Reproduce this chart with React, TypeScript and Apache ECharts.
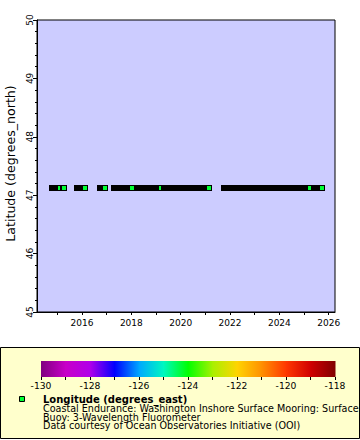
import React, { useEffect, useRef } from "react";
import * as echarts from "echarts";

// ---- data ----
const X_MIN = 2014.176;
const X_MAX = 2026.255;
const xTickYears = [2015, 2016, 2017, 2018, 2019, 2020, 2021, 2022, 2023, 2024, 2025, 2026];
const xLabelYears = [2016, 2018, 2020, 2022, 2024, 2026];
const LAT_MIN = 45;
const LAT_MAX = 50;
const LATITUDE = 47.13;
// continuous runs of observations (decimal years)
const runStart = [2014.784, 2015.23, 2015.797, 2016.73, 2017.297, 2018.229, 2019.324, 2021.756, 2025.404];
const runEnd = [2015.108, 2015.27, 2016.122, 2016.932, 2018.027, 2019.202, 2021.148, 2025.242, 2025.729];
const MARKER_COLOR = "#00ff34"; // longitude -124.27 on the palette
const paletteValues = [-130, -129, -128, -127, -126, -125, -124, -123, -122, -121, -120, -119, -118];
const paletteColors = [
  "#800080", "#c800c8", "#b000ea", "#0000ff", "#00a8ff", "#00f8c0", "#00ff00",
  "#a8f000", "#ffd400", "#ff9000", "#ff3800", "#d00000", "#800000",
];
const yTitle = "Latitude (degrees_north)";
const legendLines = [
  "Coastal Endurance: Washington Inshore Surface Mooring: Surface",
  "Buoy: 3-Wavelength Fluorometer",
  "Data courtesy of Ocean Observatories Initiative (OOI)",
];
const legendTitle = "Longitude (degrees_east)";

const FONT = "DejaVu Sans";

export default function App() {
  const ref = useRef<HTMLDivElement>(null);
  useEffect(() => {
    document.body.style.margin = "0";
    const chart = echarts.init(ref.current!, null, { renderer: "svg" });
    const option: any = {
      animation: false,
      backgroundColor: "#ffffff",
      textStyle: { fontFamily: FONT },
      grid: [
        {
          left: 37, top: 20, width: 298, height: 292,
          show: true, backgroundColor: "#ccccff", borderColor: "#000", borderWidth: 1,
          outerBoundsMode: "none",
        },
        { left: 41, top: 361, width: 294, height: 16, show: false, outerBoundsMode: "none" },
      ],
      xAxis: [
        {
          type: "value", gridIndex: 0, min: X_MIN, max: X_MAX,
          axisLine: { show: true, lineStyle: { color: "#000", width: 1 } },
          axisTick: { show: true, length: 3, customValues: xTickYears, lineStyle: { color: "#000" } },
          axisLabel: {
            customValues: xLabelYears, margin: 6, fontSize: 9, color: "#000", fontFamily: FONT,
            formatter: (v: number) => String(Math.round(v)),
          },
          splitLine: { show: false },
        },
        {
          type: "value", gridIndex: 1, min: -130, max: -118, interval: 2,
          axisLine: { show: false },
          axisTick: { show: true, length: 3, lineStyle: { color: "#000" } },
          minorTick: { show: true, splitNumber: 2, length: 3, lineStyle: { color: "#000" } },
          axisLabel: { margin: 4, fontSize: 9.2, color: "#000", fontFamily: FONT, showMinLabel: true, showMaxLabel: true },
          splitLine: { show: false },
        },
      ],
      yAxis: [
        {
          type: "value", gridIndex: 0, min: LAT_MIN, max: LAT_MAX, interval: 1,
          axisLine: { show: true, lineStyle: { color: "#000", width: 1 } },
          axisTick: { show: true, length: 4, lineStyle: { color: "#000" } },
          minorTick: { show: true, splitNumber: 5, length: 2, lineStyle: { color: "#000" } },
          axisLabel: {
            rotate: 90, margin: 3, fontSize: 9, color: "#000", fontFamily: FONT,
            showMinLabel: true, showMaxLabel: true,
          },
          splitLine: { show: false },
          name: yTitle, nameLocation: "middle", nameGap: 18,
          nameTextStyle: { fontSize: 12.6, color: "#000", fontFamily: FONT, padding: [0, 0, 0, 5] },
        },
        { type: "value", gridIndex: 1, min: 0, max: 1, show: false },
      ],
      series: [
        {
          type: "custom", xAxisIndex: 0, yAxisIndex: 0, clip: true,
          encode: { x: [0, 1], y: 2 },
          data: runStart.map((s, i) => [s, runEnd[i], LATITUDE]),
          renderItem: (params: any, api: any) => {
            const a = api.coord([api.value(0), api.value(2)]);
            const b = api.coord([api.value(1), api.value(2)]);
            const xa = Math.round(a[0]);
            const xb = Math.round(b[0]);
            const yc = Math.round(a[1]);
            return {
              type: "group",
              children: [
                { type: "rect", shape: { x: xa - 3, y: yc - 3, width: xb - xa + 6, height: 6 }, style: { fill: "#000" } },
                { type: "rect", shape: { x: xb - 2, y: yc - 2, width: 4, height: 4 }, style: { fill: MARKER_COLOR } },
              ],
            };
          },
        },
        {
          type: "custom", xAxisIndex: 1, yAxisIndex: 1,
          encode: { x: [0, 1] },
          data: paletteValues.slice(0, -1).map((v, i) => [v, paletteValues[i + 1], i]),
          renderItem: (params: any, api: any) => {
            const i = api.value(2);
            const p0 = api.coord([api.value(0), 1]);
            const p1 = api.coord([api.value(1), 0]);
            return {
              type: "rect",
              shape: { x: p0[0], y: p0[1], width: p1[0] - p0[0] + 0.5, height: p1[1] - p0[1] },
              style: {
                fill: {
                  type: "linear", x: 0, y: 0, x2: 1, y2: 0,
                  colorStops: [
                    { offset: 0, color: paletteColors[i] },
                    { offset: 1, color: paletteColors[i + 1] },
                  ],
                },
              },
            };
          },
        },
      ],
      graphic: [
        {
          type: "rect", z: -10, shape: { x: 0.5, y: 347.5, width: 359, height: 91 },
          style: { fill: "#ffffcc", stroke: "#000", lineWidth: 1 },
        },
        {
          type: "rect", z: 5, shape: { x: 19.5, y: 396.5, width: 5, height: 5 },
          style: { fill: MARKER_COLOR, stroke: "#000", lineWidth: 1 },
        },
        {
          type: "text", z: 5, x: 43, y: 399.4,
          style: { text: legendTitle, fontFamily: FONT, fontWeight: "bold", fontSize: 10, fill: "#000", verticalAlign: "middle" },
        },
        ...legendLines.map((t, i) => ({
          type: "text", z: 5, x: 43, y: 408.3 + i * 8.7,
          style: { text: t, fontFamily: FONT, fontSize: 9.6, fill: "#000", verticalAlign: "middle" },
        })),
      ],
    };
    chart.setOption(option);
    return () => chart.dispose();
  }, []);
  return <div ref={ref} style={{ width: 360, height: 440 }} />;
}
